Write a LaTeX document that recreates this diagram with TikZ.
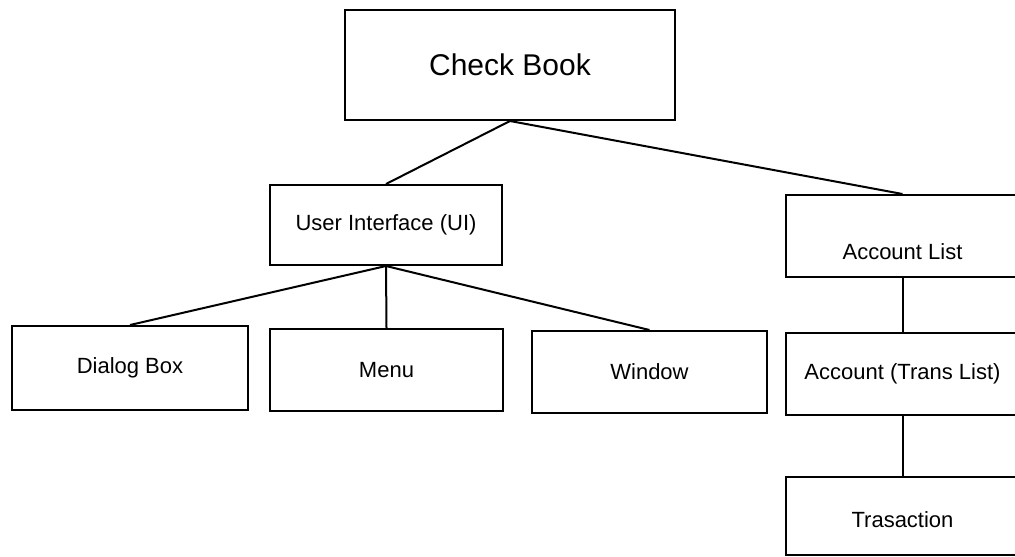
\documentclass[tikz,border=0pt]{standalone}
\usepackage{fontspec}
\setmainfont{Liberation Sans}
\begin{document}
\begin{tikzpicture}[x=1pt,y=-1pt,
  box/.style={draw, line width=2pt, rectangle, inner sep=0pt, font=\fontsize{22}{24}\selectfont},
  link/.style={line width=2pt}]
\useasboundingbox (0,0) rectangle (1015,557);
\clip (0,0) rectangle (1015,557);
\node[box, minimum width=330pt, minimum height=110pt, font=\fontsize{30}{32}\selectfont] (cb) at (510,65) {Check Book};
\node[box, minimum width=232pt, minimum height=80pt] (ui) at (386,225) {User Interface (UI)};
\node[box, minimum width=233pt, minimum height=82pt, text height=46pt, text depth=0pt] (al) at (902.5,236) {Account List};
\node[box, minimum width=236pt, minimum height=84pt] (db) at (130,368) {Dialog Box};
\node[box, minimum width=233pt, minimum height=82pt] (mn) at (386.5,370) {Menu};
\node[box, minimum width=235pt, minimum height=82pt] (wd) at (649.5,372) {Window};
\node[box, minimum width=233pt, minimum height=82pt] (at) at (902.5,374) {Account (Trans List)};
\node[box, minimum width=233pt, minimum height=78pt, text height=22pt, text depth=0pt] (tr) at (902.5,516) {Trasaction};
\draw[link] (cb.south) -- (ui.north);
\draw[link] (cb.south) -- (al.north);
\draw[link] (ui.south) -- (db.north);
\draw[link] (ui.south) -- (mn.north);
\draw[link] (ui.south) -- (wd.north);
\draw[link] (al.south) -- (at.north);
\draw[link] (at.south) -- (tr.north);
\end{tikzpicture}
\end{document}
